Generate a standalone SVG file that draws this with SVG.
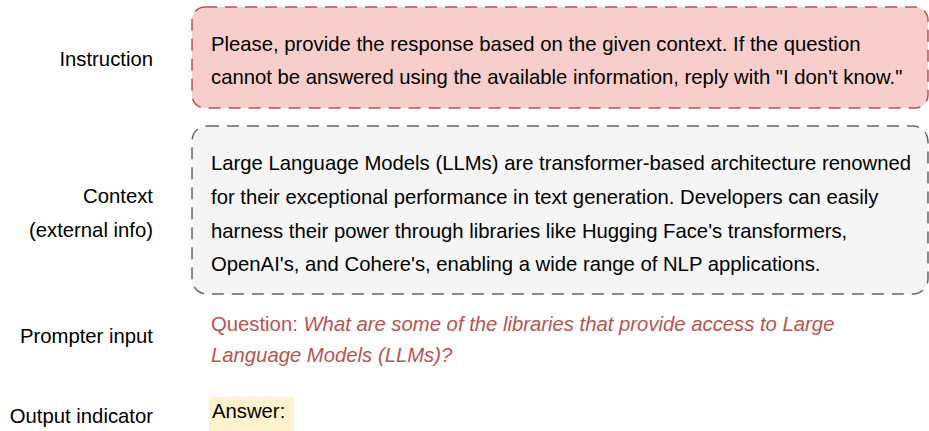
<svg xmlns="http://www.w3.org/2000/svg" width="929" height="431" viewBox="0 0 929 431">
<style>
text{font-family:"Liberation Sans",Arial,sans-serif;font-size:20.3px;fill:#000}
.lbl{text-anchor:end}
.q{fill:#b85450}
.box{stroke-width:1.5;stroke-dasharray:12 8}
</style>
<rect width="929" height="431" fill="#fff"/>
<g id="labels">
<text class="lbl" x="153" y="66">Instruction</text>
<text class="lbl" x="153" y="203">Context</text>
<text class="lbl" x="153" y="237">(external info)</text>
<text class="lbl" x="153" y="343">Prompter input</text>
<text class="lbl" x="153" y="423">Output indicator</text>
</g>
<g id="instruction">
<rect class="box" x="192" y="7" width="736" height="101" rx="13" fill="#f8cecc" stroke="#b85450"/>
<text x="211" y="51">Please, provide the response based on the given context. If the question</text>
<text x="211" y="84">cannot be answered using the available information, reply with "I don't know."</text>
</g>
<g id="context">
<rect class="box" x="192" y="126" width="736" height="168" rx="15" fill="#f5f5f5" stroke="#666666"/>
<text x="211" y="170">Large Language Models (LLMs) are transformer-based architecture renowned</text>
<text x="211" y="204">for their exceptional performance in text generation. Developers can easily</text>
<text x="211" y="238">harness their power through libraries like Hugging Face's transformers,</text>
<text x="211" y="271">OpenAI's, and Cohere's, enabling a wide range of NLP applications.</text>
</g>
<g id="prompter">
<text class="q" x="211" y="331">Question: <tspan font-style="italic">What are some of the libraries that provide access to Large</tspan></text>
<text class="q" x="211" y="362" font-style="italic">Language Models (LLMs)?</text>
</g>
<g id="output">
<rect x="209" y="397" width="85" height="34" fill="#fff2cc"/>
<text x="212" y="418">Answer:</text>
</g>
<g id="connectors"/>
</svg>
